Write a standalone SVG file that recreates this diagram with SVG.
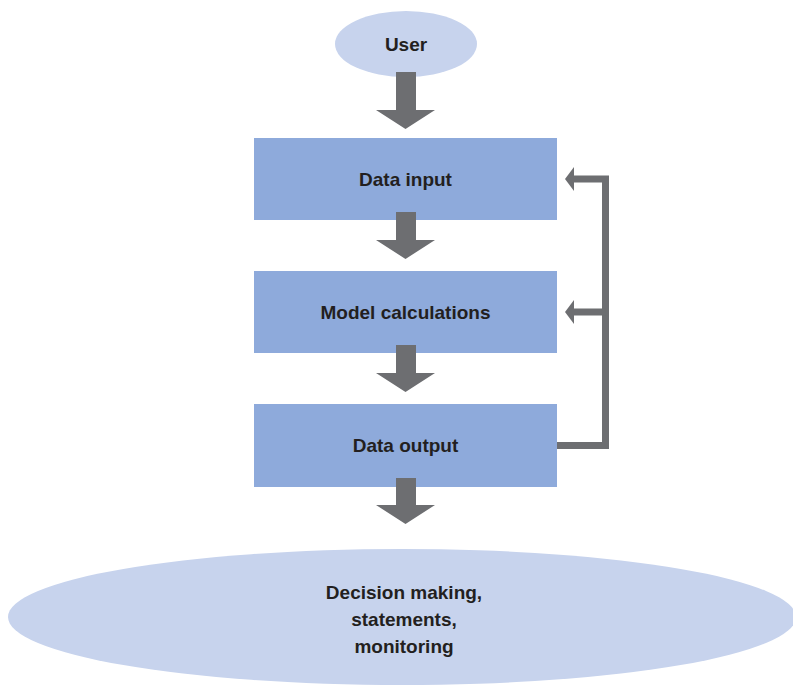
<svg xmlns="http://www.w3.org/2000/svg" width="793" height="685" viewBox="0 0 793 685">
  <style>
    .oval { fill: #c7d3ed; }
    .box { fill: #8eaadb; }
    .lbl { font-family: "Liberation Sans", Arial, sans-serif; font-weight: bold; font-size: 19px; fill: #231f20; text-anchor: middle; }
    .arrow { fill: #6d6e71; }
    .fb { fill: none; stroke: #6d6e71; stroke-width: 7; }
  </style>
  <rect width="793" height="685" fill="#ffffff"/>

  <g id="user">
    <ellipse class="oval" cx="406" cy="44" rx="71" ry="33"/>
    <text class="lbl" x="406" y="51">User</text>
  </g>

  <g id="data-input">
    <rect class="box" x="254" y="138" width="303" height="82"/>
    <text class="lbl" x="405.5" y="186">Data input</text>
  </g>

  <g id="model-calculations">
    <rect class="box" x="254" y="271" width="303" height="82"/>
    <text class="lbl" x="405.5" y="319">Model calculations</text>
  </g>

  <g id="data-output">
    <rect class="box" x="254" y="404" width="303" height="83"/>
    <text class="lbl" x="405.5" y="452">Data output</text>
  </g>

  <g id="decision-making">
    <ellipse class="oval" cx="402" cy="617" rx="394" ry="68"/>
    <text class="lbl" x="404" y="599">Decision making,</text>
    <text class="lbl" x="404" y="626">statements,</text>
    <text class="lbl" x="404" y="653">monitoring</text>
  </g>

  <g id="connectors">
    <!-- block arrows down the main flow -->
    <polygon class="arrow" points="396,72 416,72 416,110 435,110 405.5,129 376,110 396,110"/>
    <polygon class="arrow" points="396,212 416,212 416,240 435,240 405.5,259 376,240 396,240"/>
    <polygon class="arrow" points="396,345 416,345 416,373 435,373 405.5,392 376,373 396,373"/>
    <polygon class="arrow" points="396,478 416,478 416,505 435,505 405.5,524 376,505 396,505"/>
    <!-- feedback loop from output back to input and model -->
    <polyline class="fb" points="557,445.5 605.5,445.5 605.5,179 572,179"/>
    <line class="fb" x1="605.5" y1="312" x2="572" y2="312"/>
    <polygon class="arrow" points="565,179 574,167 574,191"/>
    <polygon class="arrow" points="565,312 574,300 574,324"/>
  </g>
</svg>
